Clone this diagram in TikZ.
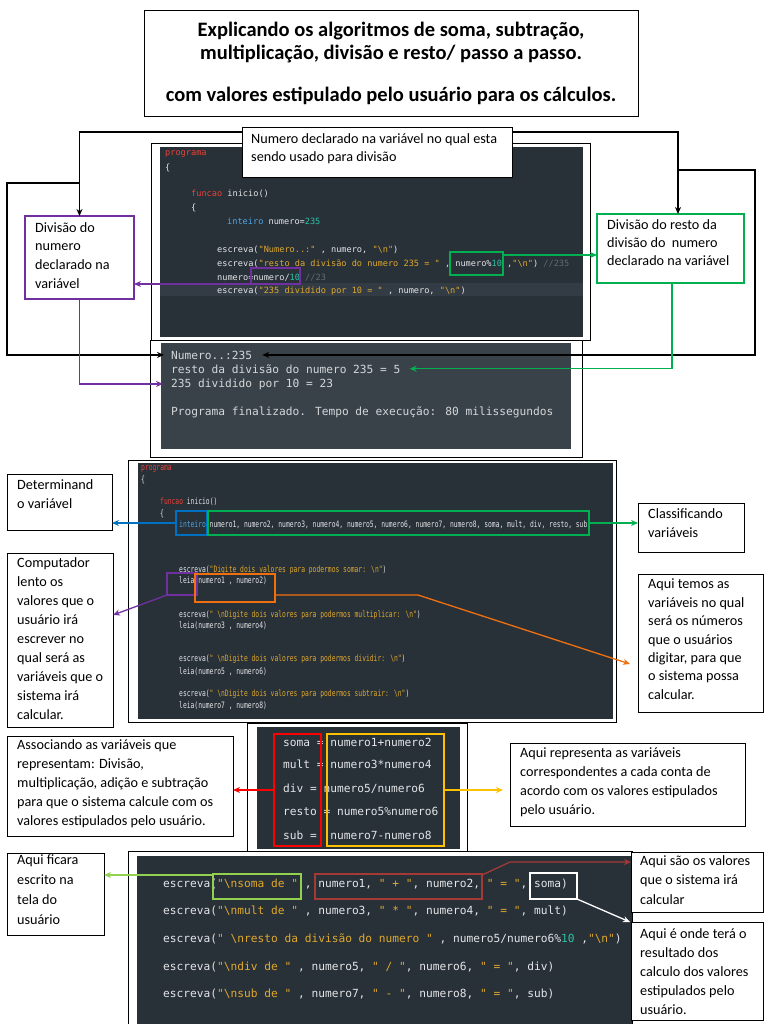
\documentclass[tikz,border=0pt]{standalone}
\usepackage{fontspec}
\setmainfont{Carlito}
\newfontfamily\cmono{DejaVu Sans Mono}
\newfontfamily\cmononarrow[FakeStretch=0.72]{DejaVu Sans Mono}
\usetikzlibrary{arrows.meta,calc}
\definecolor{darkbg}{HTML}{283038}
\definecolor{outbg}{HTML}{3A4249}
\definecolor{hlbg}{HTML}{333C44}
\definecolor{ckw}{HTML}{E8443A}
\definecolor{cst}{HTML}{E0A92E}
\definecolor{cty}{HTML}{4DA6E8}
\definecolor{cnu}{HTML}{2BC4A6}
\definecolor{ccm}{HTML}{5F6B75}
\definecolor{ctx}{HTML}{E4E6E8}
\definecolor{cout}{HTML}{D3D7D9}
\definecolor{mpurple}{HTML}{7030A0}
\definecolor{mgreen}{HTML}{00B050}
\definecolor{morange}{HTML}{F07010}
\definecolor{mblue}{HTML}{0070C0}
\definecolor{mred}{HTML}{FF0000}
\definecolor{myellow}{HTML}{FFC000}
\definecolor{mlgreen}{HTML}{92D050}
\definecolor{mdred}{HTML}{A33A36}
\newcommand\ckw[1]{\textcolor{ckw}{#1}}
\newcommand\cst[1]{\textcolor{cst}{#1}}
\newcommand\cty[1]{\textcolor{cty}{#1}}
\newcommand\cnu[1]{\textcolor{cnu}{#1}}
\newcommand\ccm[1]{\textcolor{ccm}{#1}}
\tikzset{
 pframe/.style={draw=black, line width=0.8pt, fill=white, anchor=north west, inner sep=0pt, outer sep=0pt},
 pdark/.style={fill=darkbg, anchor=north west, inner sep=0pt, outer sep=0pt},
 hbox/.style={draw, line width=1.4pt, anchor=north west, inner sep=0pt, outer sep=0pt},
 notebox/.style={draw=black, line width=0.9pt, fill=white, anchor=north west, inner sep=0pt, outer sep=0pt},
 notetext/.style={anchor=north west, inner sep=0pt, align=left, font=\fontsize{14.2}{19}\selectfont},
 titletext/.style={anchor=base, inner sep=0pt, font=\bfseries\fontsize{20.5}{24}\selectfont},
 code1/.style={anchor=base west, inner sep=0pt, text=ctx, font=\cmono\fontsize{8.6}{10}\selectfont},
 code2/.style={anchor=base west, inner sep=0pt, text=ctx, font=\cmononarrow\fontsize{8.8}{10}\selectfont},
 code3/.style={anchor=base west, inner sep=0pt, text=ctx, font=\cmono\fontsize{11.2}{13}\selectfont},
 outtxt/.style={anchor=base west, inner sep=0pt, text=cout, font=\cmono\fontsize{11.2}{13}\selectfont},
 arr/.style={-{Stealth[length=7pt,width=6pt]}, line width=1.3pt},
}
\begin{document}
\begin{tikzpicture}[x=1pt,y=-1pt]
\useasboundingbox (0,0) rectangle (768,1024);
\fill[white] (0,0) rectangle (768,1024);

% ---------- title
\node[notebox, minimum width=494pt, minimum height=106pt] (titlebox) at (144,10) {};
\node[titletext] (t1) at (391,37) {Explicando os algoritmos de soma, subtração,};
\node[titletext] (t2) at (391,60) {multiplicação, divisão e resto/ passo a passo.};
\node[titletext] (t3) at (391,102) {com valores estipulado pelo usuário para os cálculos.};

% ---------- panel 1
\node[pframe, minimum width=439pt, minimum height=197pt] (f1) at (151,143) {};
\node[pdark, minimum width=423pt, minimum height=190pt] (d1) at (160,147) {};
\node[pdark, fill=hlbg, minimum width=423pt, minimum height=13pt] (hl1) at (160,283) {};
\node[code1] (c1) at (165,156) {\ckw{programa}};
\node[code1] (c2) at (165,171) {\{};
\node[code1] (c3) at (191,197) {\ckw{funcao} inicio()};
\node[code1] (c4) at (191,211) {\{};
\node[code1] (c5) at (227,225) {\cty{inteiro} numero=\cnu{235}};
\node[code1] (c6) at (217,252) {escreva(\cst{"Numero..:"} , numero, \cst{"\textbackslash n"})};
\node[code1] (c7) at (217,266) {escreva(\cst{"resto da divisão do numero 235 = "} , numero\%\cnu{10} ,\cst{"\textbackslash n"}) \ccm{//235}};
\node[code1] (c8) at (217,280) {numero=numero/\cnu{10} \ccm{//23}};
\node[code1] (c9) at (217,293) {escreva(\cst{"235 dividido por 10 = "} , numero, \cst{"\textbackslash n"})};
\node[hbox, draw=mgreen, minimum width=53pt, minimum height=23pt] (gbox) at (450,252) {};
\node[hbox, draw=mpurple, minimum width=49pt, minimum height=16pt] (pbox) at (251,268) {};

% ---------- output panel
\node[pframe, minimum width=432pt, minimum height=117pt] (f2) at (150,340) {};
\node[pdark, fill=outbg, minimum width=410pt, minimum height=106pt] (d2) at (161,343) {};
\node[outtxt] (o1) at (171,359) {Numero..:235};
\node[outtxt] (o2) at (171,373) {resto da divisão do numero 235 = 5};
\node[outtxt] (o3) at (171,387) {235 dividido por 10 = 23};
\node[outtxt] (o4) at (171,415) {Programa finalizado. Tempo de execução: 80 milissegundos};

% ---------- panel 2
\node[pframe, minimum width=488pt, minimum height=262pt] (f3) at (128,460) {};
\node[pdark, minimum width=475pt, minimum height=256pt] (d3) at (138,463) {};
\node[code2] (p1) at (141,470) {\ckw{programa}};
\node[code2] (p2) at (141,482) {\{};
\node[code2] (p3) at (160,504) {\ckw{funcao} inicio()};
\node[code2] (p4) at (160,516) {\{};
\node[code2] (p5) at (179,527) {\cty{inteiro} numero1, numero2, numero3, numero4, numero5, numero6, numero7, numero8, soma, mult, div, resto, sub};
\node[code2] (p6) at (179,572) {escreva(\cst{"Digite dois valores para podermos somar: \textbackslash n"})};
\node[code2] (p7) at (179,583) {leia(numero1 , numero2)};
\node[code2] (p8) at (179,617) {escreva(\cst{" \textbackslash nDigite dois valores para podermos multiplicar: \textbackslash n"})};
\node[code2] (p9) at (179,628) {leia(numero3 , numero4)};
\node[code2] (p10) at (179,661) {escreva(\cst{" \textbackslash nDigite dois valores para podermos dividir: \textbackslash n"})};
\node[code2] (p11) at (179,674) {leia(numero5 , numero6)};
\node[code2] (p12) at (179,696) {escreva(\cst{" \textbackslash nDigite dois valores para podermos subtrair: \textbackslash n"})};
\node[code2] (p13) at (179,708) {leia(numero7 , numero8)};
\node[hbox, draw=mblue, minimum width=31pt, minimum height=24pt] (ibox) at (176,511) {};
\node[hbox, draw=mgreen, minimum width=381pt, minimum height=24pt] (vbox) at (208,511) {};
\node[hbox, draw=mpurple, minimum width=30pt, minimum height=22pt] (lbox) at (167,573) {};
\node[hbox, draw=morange, minimum width=80pt, minimum height=28pt] (nbox) at (195,574) {};

% ---------- panel 3
\node[pframe, minimum width=220pt, minimum height=128pt] (f4) at (247,723) {};
\node[pdark, minimum width=203pt, minimum height=122pt] (d4) at (257,727) {};
\node[code3] (s1) at (283,746) {soma = numero1+numero2};
\node[code3] (s2) at (283,768) {mult = numero3*numero4};
\node[code3] (s3) at (283,792) {div = numero5/numero6};
\node[code3] (s4) at (283,815) {resto = numero5\%numero6};
\node[code3] (s5) at (283,839) {sub =\ \ numero7-numero8};
\node[hbox, draw=mred, minimum width=47pt, minimum height=112pt] (rbox) at (274,734) {};
\node[hbox, draw=myellow, minimum width=117pt, minimum height=112pt] (ybox) at (327,734) {};

% ---------- panel 4
\node[pframe, minimum width=504pt, minimum height=180pt] (f5) at (128,851) {};
\node[pdark, minimum width=495pt, minimum height=170pt] (d5) at (137,856) {};
\node[code3] (e1) at (163,887) {escreva(\cst{"\textbackslash nsoma de "} , numero1, \cst{" + "}, numero2, \cst{" = "}, soma)};
\node[code3] (e2) at (163,914) {escreva(\cst{"\textbackslash nmult de "} , numero3, \cst{" * "}, numero4, \cst{" = "}, mult)};
\node[code3] (e3) at (163,942) {escreva(\cst{" \textbackslash nresto da divisão do numero "} , numero5/numero6\%\cnu{10} ,\cst{"\textbackslash n"})};
\node[code3] (e4) at (163,970) {escreva(\cst{"\textbackslash ndiv de "} , numero5, \cst{" / "}, numero6, \cst{" = "}, div)};
\node[code3] (e5) at (163,997) {escreva(\cst{"\textbackslash nsub de "} , numero7, \cst{" - "}, numero8, \cst{" = "}, sub)};
\node[hbox, draw=mlgreen, minimum width=88pt, minimum height=25pt] (gbox4) at (213,874) {};
\node[hbox, draw=mdred, minimum width=167pt, minimum height=25pt] (rbox4) at (315,874) {};
\node[hbox, draw=white, minimum width=47pt, minimum height=26pt] (wbox4) at (530,873) {};

% ---------- annotation boxes
\node[notebox, minimum width=270pt, minimum height=50pt] (callout) at (242,127) {};
\node[notebox, draw=mpurple, line width=1.3pt, minimum width=109pt, minimum height=83pt] (divnum) at (25,216) {};
\node[notebox, draw=mgreen, line width=1.3pt, minimum width=147pt, minimum height=69pt] (divresto) at (597,214) {};
\node[notebox, minimum width=105pt, minimum height=56pt] (detvar) at (7,474) {};
\node[notebox, minimum width=106pt, minimum height=174pt] (comp) at (7,553) {};
\node[notebox, minimum width=106pt, minimum height=49pt] (classvar) at (638,503) {};
\node[notebox, minimum width=125pt, minimum height=138pt] (aquitemos) at (638,574) {};
\node[notebox, minimum width=226pt, minimum height=100pt] (assoc) at (7,736) {};
\node[notebox, minimum width=235pt, minimum height=83pt] (aquirep) at (510,743) {};
\node[notebox, minimum width=97pt, minimum height=82pt] (aquificara) at (7,853) {};
\node[notebox, minimum width=132pt, minimum height=60pt] (aquisao) at (631,852) {};
\node[notebox, minimum width=132pt, minimum height=98pt] (aquionde) at (631,922) {};

\node[notetext, font=\fontsize{14.2}{18}\selectfont] (callout-t) at (251,133) {Numero declarado na variável no qual esta\\sendo usado para divisão};
\node[notetext, font=\fontsize{14.2}{18.7}\selectfont] (divnum-t) at (35,222) {Divisão do\\numero\\declarado na\\variável};
\node[notetext, font=\fontsize{14.2}{18.3}\selectfont] (divresto-t) at (607,219) {Divisão do resto da\\divisão do\ \ numero\\declarado na variável};
\node[notetext] (detvar-t) at (17,479) {Determinand\\o variável};
\node[notetext] (comp-t) at (17,557) {Computador\\lento os\\valores que o\\usuário irá\\escrever no\\qual será as\\variáveis que o\\sistema irá\\calcular.};
\node[notetext] (classvar-t) at (648,508) {Classificando\\variáveis};
\node[notetext, font=\fontsize{14.2}{18.4}\selectfont] (aquitemos-t) at (648,579) {Aqui temos as\\variáveis no qual\\será os números\\que o usuários\\digitar, para que\\o sistema possa\\calcular.};
\node[notetext] (assoc-t) at (17,739) {Associando as variáveis que\\representam: Divisão,\\multiplicação, adição e subtração\\para que o sistema calcule com os\\valores estipulados pelo usuário.};
\node[notetext] (aquirep-t) at (520,748) {Aqui representa as variáveis\\correspondentes a cada conta de\\acordo com os valores estipulados\\pelo usuário.};
\node[notetext, font=\fontsize{14.2}{20}\selectfont] (aquificara-t) at (17,854) {Aqui ficara\\escrito na\\tela do\\usuário};
\node[notetext, font=\fontsize{14.2}{19.5}\selectfont] (aquisao-t) at (640,855) {Aqui são os valores\\que o sistema irá\\calcular};
\node[notetext] (aquionde-t) at (640,928) {Aqui é onde terá o\\resultado dos\\calculo dos valores\\estipulados pelo\\usuário.};

% ---------- connectors
\coordinate (bl1) at (79.5,132);
\coordinate (bj) at (79.5,183);
\coordinate (bk) at (7,183);
\draw[arr] (callout.west |- bl1) -- (bl1) -- (divnum.north);
\draw[arr] (bj) -- (bk) |- ([xshift=-7pt]o1.west);
\coordinate (br1) at (678,132);
\coordinate (brj) at (678,170);
\coordinate (brk) at (755,170);
\draw[arr] (callout.east |- br1) -- (br1) -- (br1 |- divresto.north);
\draw[arr] (brj) -- (brk) |- ([xshift=10pt]o1.east);

\coordinate (g1) at ([yshift=-3pt]gbox.north east);
\draw[arr, draw=mgreen] (g1) -- (g1 -| divresto.west);
\coordinate (g2x) at (672,0);
\draw[arr, draw=mgreen] (divresto.south -| g2x) |- ([xshift=9pt]o2.east);

\draw[arr, draw=mpurple] (pbox.south west) -- (pbox.south west -| divnum.east);
\draw[arr, draw=mpurple] (divnum.south) |- ([xshift=-8pt]o3.west);

\draw[arr, draw=mblue] (ibox.west) -- (ibox.west -| detvar.east);
\draw[arr, draw=mgreen] (vbox.east) -- (vbox.east -| classvar.west);
\draw[arr, draw=mpurple] (lbox.south west) -- ([yshift=25pt]comp.east);
\coordinate (ob) at (418,595);
\draw[arr, draw=morange] ([yshift=7pt]nbox.south east) -- (ob) -- ([xshift=-8pt,yshift=-21pt]aquitemos.west);

\draw[arr, draw=mred] (rbox.west) -- (rbox.west -| assoc.east);
\coordinate (ytip) at ([xshift=-7pt]aquirep.west);
\draw[arr, draw=myellow] (ybox.east) -- (ybox.east -| ytip);

\coordinate (lg1) at ([yshift=-1pt]gbox4.north west);
\draw[arr, draw=mlgreen] (lg1) -- (lg1 -| aquificara.east);
\coordinate (drb) at (510,862);
\draw[arr, draw=mdred] ([yshift=-1pt]rbox4.north east) -- (drb) -- (drb -| aquisao.west);
\draw[arr, draw=white] (wbox4.south east) -- ([xshift=-1pt]aquionde.north west);
\end{tikzpicture}
\end{document}
